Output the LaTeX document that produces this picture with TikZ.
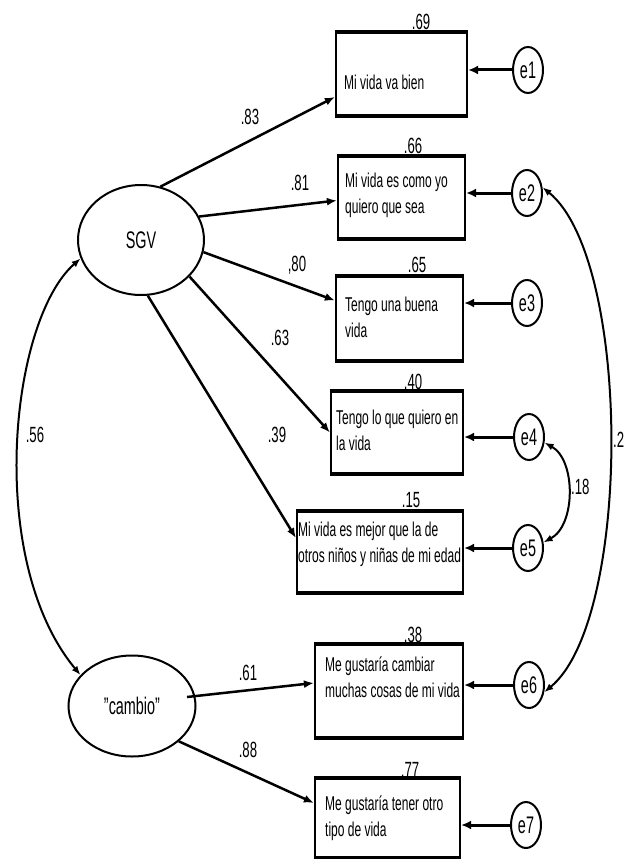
\documentclass[tikz,border=0pt]{standalone}
\usepackage{fontspec}
\setmainfont{Liberation Sans}[FakeStretch=0.6]
\usetikzlibrary{shapes.geometric,arrows.meta,calc}
\begin{document}
\begin{tikzpicture}[x=1pt,y=-1pt,
  obsbox/.style={draw,line width=2.2pt,inner sep=0pt,rectangle},
  hline/.style={line width=3.4pt,line cap=square},
  boxtext/.style={font=\fontsize{20}{26}\selectfont,align=left,inner sep=0pt,anchor=west},
  latent/.style={draw,ellipse,line width=2pt,inner sep=0pt,font=\fontsize{24}{26}\selectfont},
  errnode/.style={draw,ellipse,line width=2pt,minimum width=30pt,minimum height=46pt,inner sep=0pt,font=\fontsize{24}{26}\selectfont},
  num/.style={font=\fontsize{22}{24}\selectfont,inner sep=0pt},
  load/.style={line width=2.5pt,-{Latex[length=10pt,width=8pt]}},
  erra/.style={line width=3pt,-{Latex[length=10pt,width=9pt]}},
  cov/.style={line width=2pt,{Latex[length=9pt,width=7pt]}-{Latex[length=9pt,width=7pt]}},
]
\useasboundingbox (0,0) rectangle (628,859);

% observed boxes
\node[obsbox,minimum width=131pt,minimum height=82pt] (b1) at (401.5,74) {};
\node[obsbox,minimum width=127pt,minimum height=81pt] (b2) at (401.5,197.5) {};
\node[obsbox,minimum width=127pt,minimum height=83pt] (b3) at (399.5,318.5) {};
\node[obsbox,minimum width=132pt,minimum height=81pt] (b4) at (397,432.5) {};
\node[obsbox,minimum width=166pt,minimum height=80pt] (b5) at (380,552) {};
\node[obsbox,minimum width=148pt,minimum height=92pt] (b6) at (389,691) {};
\node[obsbox,minimum width=145pt,minimum height=78pt] (b7) at (387.5,818) {};
\foreach \b in {b1,b2,b3,b4,b5,b6,b7}{
  \draw[hline] (\b.north west) -- (\b.north east) (\b.south west) -- (\b.south east);
}

% box texts
\node[boxtext] (t1) at (344,82) {Mi vida va bien};
\node[boxtext] (t2) at (345,195) {Mi vida es como yo\\quiero que sea};
\node[boxtext] (t3) at (345,317.5) {Tengo una buena\\vida};
\node[boxtext] (t4) at (336,430) {Tengo lo que quiero en\\la vida};
\node[boxtext] (t5) at (298,544.5) {Mi vida es mejor que la de\\otros niños y niñas de mi edad};
\node[boxtext] (t6) at (325,677.5) {Me gustaría cambiar\\muchas cosas de mi vida};
\node[boxtext] (t7) at (325,818.5) {Me gustaría tener otro\\tipo de vida};

% R-squared values
\node[num] (r1) at (421,22) {.69};
\node[num] (r2) at (413,146) {.66};
\node[num] (r3) at (417,265) {.65};
\node[num] (r4) at (413,382) {.40};
\node[num] (r5) at (411,500) {.15};
\node[num] (r6) at (413,635) {.38};
\node[num] (r7) at (410,770) {.77};

% latent variables
\node[latent,minimum width=126pt,minimum height=110pt] (sgv) at (141,240) {SGV};
\node[latent,minimum width=127pt,minimum height=101pt] (cambio) at (132,706) {"cambio"};

% error terms
\node[errnode] (e1) at (528,70) {e1};
\node[errnode] (e2) at (527,193) {e2};
\node[errnode] (e3) at (527,303) {e3};
\node[errnode] (e4) at (529,437) {e4};
\node[errnode] (e5) at (528,548) {e5};
\node[errnode] (e6) at (529,685) {e6};
\node[errnode] (e7) at (526,825) {e7};

\foreach \i in {1,...,7}{
  \draw[erra] (e\i.west) -- (b\i.east |- e\i.west);
}

% loadings
\draw[load] (sgv.70) -- ($(b1.west)+(0,23)$);
\draw[load] (sgv.22) -- ($(b2.west)+(0,3)$);
\draw[load] (sgv.349) -- ($(b3.west)+(0,-18)$);
\draw[load] (sgv.323) -- (b4.west);
\draw[load] (sgv.277) -- ($(b5.west)+(0,-14)$);
\draw[load] ($(cambio.center)+(55,-9)$) -- ($(b6.west)+(0,-8)$);
\draw[load] (cambio.-37) -- ($(b7.west)+(0,-15)$);

\node[num] (l83) at (250,117) {.83};
\node[num] (l81) at (300,183) {.81};
\node[num] (l80) at (297,265) {,80};
\node[num] (l63) at (280,338) {.63};
\node[num] (l39) at (277,435) {.39};
\node[num] (l61) at (248,673) {.61};
\node[num] (l88) at (248,750) {.88};

% covariances
\draw[cov] (sgv.197) .. controls (10,320) and (-15,560) .. (cambio.149);
\node[num] (l56) at (35,435) {.56};
\draw[cov] (e4.-20) .. controls (576,460) and (576,525) .. (e5.20);
\node[num,anchor=west] (l18) at (571,487) {.18};
\draw[cov] (e2.20) .. controls (632,260) and (632,620) .. (e6.-25);
\node[num,anchor=west] (l2) at (613,440) {.2};
\end{tikzpicture}
\end{document}
